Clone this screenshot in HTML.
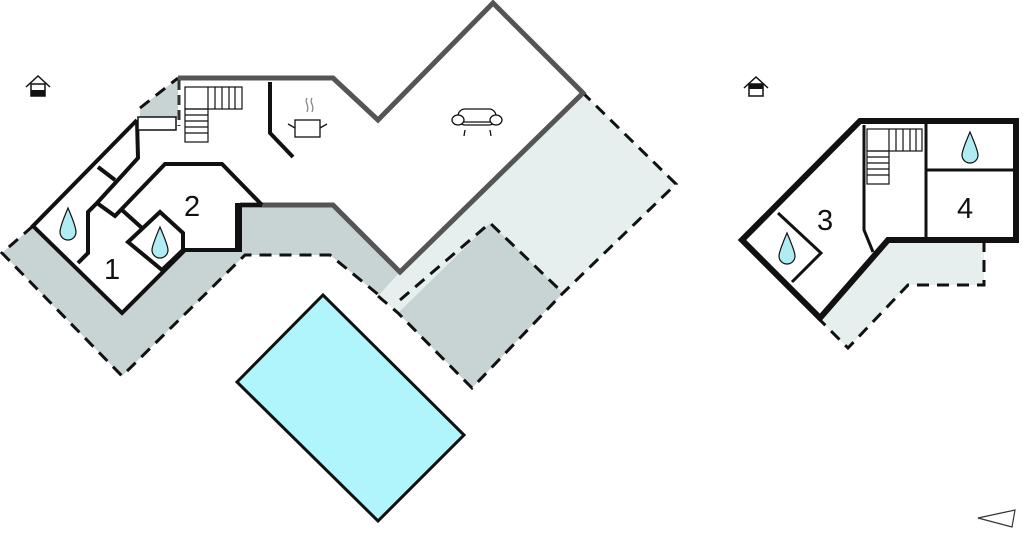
<!DOCTYPE html>
<html><head><style>body{margin:0;background:#fff}svg{display:block}</style></head><body>
<svg width="1024" height="541" viewBox="0 0 1024 541" xmlns="http://www.w3.org/2000/svg" font-family="Liberation Sans, sans-serif">
<!-- terraces -->
<polygon points="2,253 33,226 122,313 185,250 240,250 240,205 333,205 400,272 380,296 330,255 245,255 122,376" fill="#c8d4d4"/>
<polygon points="140,108 178,78 178,118 140,118" fill="#c8d4d4"/>
<polygon points="583,93 676,184 563,293 490,223 398,313 378,296 400,272" fill="#e6eeee"/>
<polygon points="490,223 563,293 472,388 398,313" fill="#c8d4d4"/>
<polygon points="818,318 888,240 984,240 984,285 908,285 848,348" fill="#e6eeee"/>
<g fill="none" stroke="#111" stroke-width="3" stroke-dasharray="12,8">
<polyline points="140,108 178,78"/>
<polyline points="33,226 2,253 122,376 245,255 330,255 380,296"/>
<polyline points="378,296 398,313 472,388 563,293 676,184 583,93"/>
<polyline points="400,300 490,223 563,293"/>
<polyline points="984,240 984,285 908,285 848,348 818,318"/>
</g>
<!-- pool -->
<polygon points="237,382 323,295 464,435 378,521" fill="#b0f4fc" stroke="#111" stroke-width="3"/>
<!-- left building walls -->
<g fill="none" stroke="#555" stroke-width="5">
<polyline points="178,78 333,78 378,120 493,3 583,93 400,272 333,205 240,205"/>
</g>
<g fill="none" stroke="#111" stroke-width="4" stroke-linejoin="miter">
<polyline points="240,205 240,250 185,250 122,313 33,226 137,120"/>
<polyline points="137,120 138,158 97,203 88,212 88,253 78,263"/>
<polyline points="98,167 115,180"/>
<polyline points="97,203 115,216 165,164 222,164 262,205"/>
<polyline points="122,210 142,228"/>
<polyline points="183,250 237,250 237,205 262,205"/>
<polygon points="128,242 160,212 183,233 183,250 162,270"/>
<polyline points="270,82 270,133 293,157"/>
</g>
<rect x="138" y="117" width="38" height="13" fill="#fff" stroke="#111" stroke-width="1.5"/>
<line x1="179" y1="80" x2="179" y2="126" stroke="#333" stroke-width="3" stroke-dasharray="10,5"/>
<!-- stairs left -->
<g fill="none" stroke="#111" stroke-width="1.2">
<rect x="185" y="87" width="57" height="22"/>
<rect x="185" y="109" width="23" height="33"/>
<path d="M208,87V109M215,87V109M222,87V109M229,87V109M235,87V109M185,115H208M185,121H208M185,127H208M185,133H208"/>
</g>
<!-- pot -->
<g fill="none" stroke="#111" stroke-width="1.3">
<rect x="295" y="120" width="25" height="17"/>
<path d="M288,124L295,128M327,124L320,128"/>
<path d="M307,98c-3,5 3,7 0,14M312,98c-3,5 3,7 0,14" stroke="#888"/>
</g>
<!-- sofa -->
<g fill="none" stroke="#111" stroke-width="1.3">
<rect x="458" y="109" width="38" height="16" rx="7"/>
<ellipse cx="458" cy="120" rx="6" ry="5" fill="#fff"/><ellipse cx="496" cy="120" rx="6" ry="5" fill="#fff"/>
<path d="M464,122H490M465,130L464,136M490,130L491,136"/>
</g>
<!-- drops -->
<g fill="#b0ecf4" stroke="#111" stroke-width="1.2">
<path d="M68,208C62,222 60,229 60,232a8,8 0 0 0 16,0c0,-3 -2,-10 -8,-24z"/>
<path d="M160,227C154,241 152,247 152,250a8,8 0 0 0 16,0c0,-3 -2,-9 -8,-23z"/>
<path d="M970,132C964,146 962,152 962,155a8,8 0 0 0 16,0c0,-3 -2,-9 -8,-23z"/>
<path d="M787,233C781,247 779,253 779,256a8,8 0 0 0 16,0c0,-3 -2,-9 -8,-23z"/>
</g>
<g font-size="29" fill="#111">
<text x="184" y="216">2</text><text x="104" y="279">1</text>
<text x="817" y="230">3</text><text x="957" y="218">4</text>
</g>
<!-- right building -->
<g fill="none" stroke="#111" stroke-width="6" stroke-linejoin="miter">
<polygon points="860,121 1016,121 1016,240 888,240 820,318 742,240"/>
</g>
<g fill="none" stroke="#111" stroke-width="3">
<polyline points="864,125 864,230 873,252"/>
<line x1="926" y1="121" x2="926" y2="240"/>
<line x1="926" y1="170" x2="1016" y2="170"/>
<polyline points="778,213 821,253 792,282"/>
</g>
<g fill="none" stroke="#111" stroke-width="1.2">
<rect x="867" y="129" width="55" height="22"/><rect x="867" y="151" width="22" height="33"/>
<path d="M889,129V151M896,129V151M903,129V151M910,129V151M916,129V151M867,157H889M867,163H889M867,169H889M867,175H889"/>
</g>
<!-- house icons -->
<g stroke="#111" stroke-width="1.5" fill="none">
<path d="M26,87L38,76L50,87"/><rect x="31" y="84" width="14" height="12"/>
<path d="M744,88L756,77L768,88"/><rect x="749" y="84" width="14" height="12"/>
</g>
<rect x="31" y="90" width="14" height="6" fill="#111"/>
<rect x="749" y="84" width="14" height="5" fill="#111"/>
<polygon points="978,518 1015,510 1012,527" fill="none" stroke="#333" stroke-width="1.2"/>
</svg>
</body></html>
